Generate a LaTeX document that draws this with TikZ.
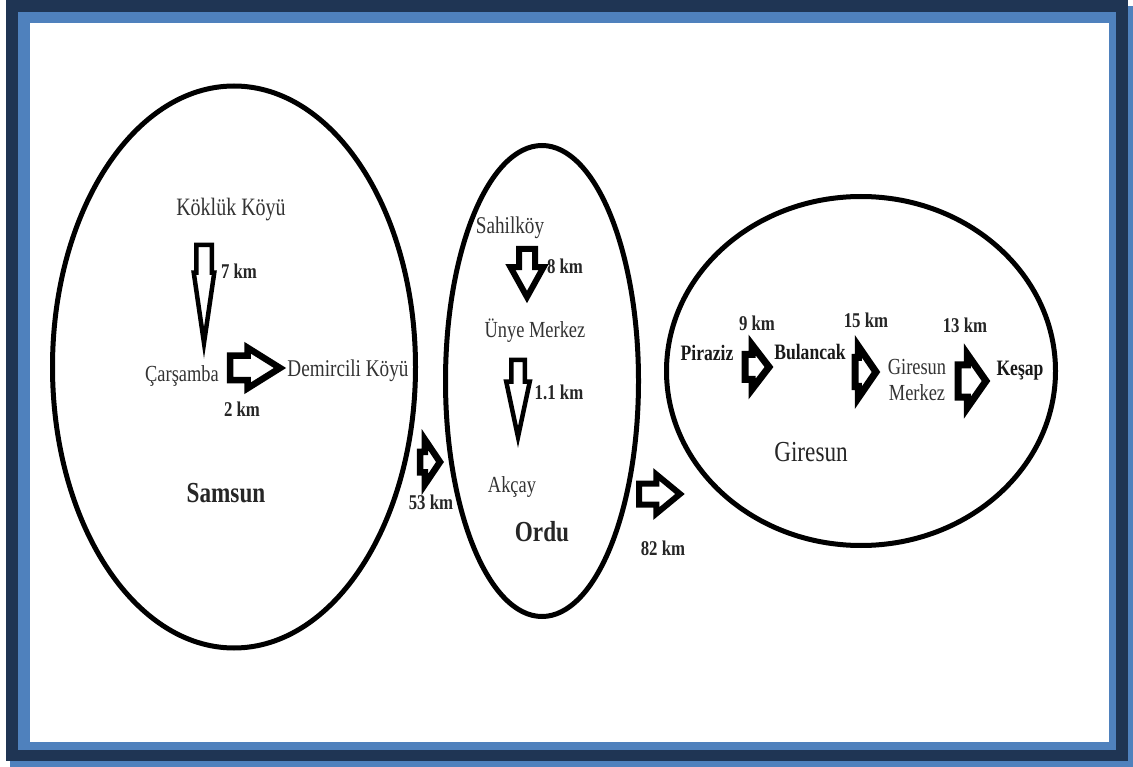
\documentclass[tikz,border=0pt]{standalone}
\usepackage{fontspec}
\setmainfont{Liberation Serif}[FakeStretch=0.8]
\usetikzlibrary{shapes.geometric,shapes.arrows}
\definecolor{navy}{HTML}{1F3554}
\definecolor{bandblue}{HTML}{4F81BD}
\definecolor{txtgray}{HTML}{333333}
\tikzset{
  region/.style={ellipse, draw=black, line width=5pt, inner sep=0pt, outer sep=0pt},
  place/.style={font=\fontsize{#1}{#1}\selectfont, text=txtgray, inner sep=0pt},
  placeb/.style={font=\fontsize{#1}{#1}\selectfont\bfseries, text=black!90, inner sep=0pt},
  kmlabel/.style={font=\fontsize{21}{21}\selectfont\bfseries, text=black!85, inner sep=0pt},
  bigname/.style={font=\fontsize{29}{29}\selectfont#1, text=black!85, inner sep=0pt},
  barrow/.style n args={5}{single arrow, draw=black, fill=white, anchor=tail,
    inner xsep=0pt, outer sep=0pt, single arrow head indent=0pt, line join=miter,
    minimum height=#1, inner ysep=#2, single arrow head extend=#3,
    single arrow tip angle=#4, line width=#5},
}
\begin{document}
\begin{tikzpicture}[x=1pt,y=-1pt]
\useasboundingbox (0,0) rectangle (1133,767);
% frame
\fill[white] (0,0) rectangle (1133,767);
\fill[bandblue] (10,6) rectangle (1133,767);
\fill[navy] (6,0) rectangle (1128,761);
\fill[bandblue] (18,12) rectangle (1116,750);
\fill[white] (30,23) rectangle (1109,742);
% regions
\node[region, minimum width=363pt, minimum height=562pt] (samsunE) at (234,367) {};
\node[region, minimum width=193pt, minimum height=471pt] (orduE) at (542,381) {};
\node[region, minimum width=389pt, minimum height=349pt] (giresunE) at (861,371) {};
% Samsun texts
\node[place=25] (koklu) at (231,210) {Köklük Köyü};
\node[place=23] (carsamba) at (182,376) {Çarşamba};
\node[place=24] (demircili) at (348,371) {Demircili Köyü};
\node[kmlabel] (km7) at (239,271) {7 km};
\node[kmlabel] (km2) at (242,409) {2 km};
\node[bigname=\bfseries] (samsun) at (226,493) {Samsun};
% Ordu texts
\node[place=24] (sahil) at (510,228) {Sahilköy};
\node[place=23] (unye) at (535,331) {Ünye Merkez};
\node[place=23] (akcay) at (512,487) {Akçay};
\node[kmlabel] (km8) at (565,266) {8 km};
\node[kmlabel] (km11) at (559,392) {1.1 km};
\node[bigname=\bfseries] (ordu) at (542,532) {Ordu};
% between regions
\node[kmlabel] (km53) at (431,502) {53 km};
\node[kmlabel] (km82) at (663,548) {82 km};
% Giresun texts
\node[placeb=22] (piraziz) at (707,353) {Piraziz};
\node[placeb=22] (bulancak) at (810,352) {Bulancak};
\node[place=23, align=center] (merkez) at (917,380) {Giresun\\[3pt]Merkez};
\node[placeb=22] (kesap) at (1020,371) {Keşap};
\node[kmlabel] (km9) at (757,323) {9 km};
\node[kmlabel] (km15) at (866,320) {15 km};
\node[kmlabel] (km13) at (965,325) {13 km};
\node[bigname=] (giresun) at (811,452) {Giresun};
% block arrows
\node[barrow={98pt}{5.5pt}{2.5pt}{16.6}{4.5pt}, rotate=-90] (a1) at (204,245) {};
\node[barrow={50pt}{9pt}{8pt}{64}{6.5pt}] (a2) at (230,368) {};
\node[barrow={20pt}{7pt}{12pt}{112}{6.5pt}] (a53) at (420,462) {};
\node[barrow={41pt}{7.5pt}{9pt}{79}{6pt}] (a82) at (639,494) {};
\node[barrow={48pt}{5pt}{8.5pt}{58}{6pt}, rotate=-90] (a8) at (527,249) {};
\node[barrow={77pt}{4.5pt}{5pt}{24}{4.5pt}, rotate=-90] (a11) at (518,360) {};
\node[barrow={24pt}{9pt}{9.5pt}{105}{7pt}] (a9) at (745,367) {};
\node[barrow={21pt}{11pt}{11pt}{111}{7pt}] (a15) at (855,372) {};
\node[barrow={28pt}{12.5pt}{10.5pt}{110}{7pt}] (a13) at (958,381) {};
\end{tikzpicture}
\end{document}
